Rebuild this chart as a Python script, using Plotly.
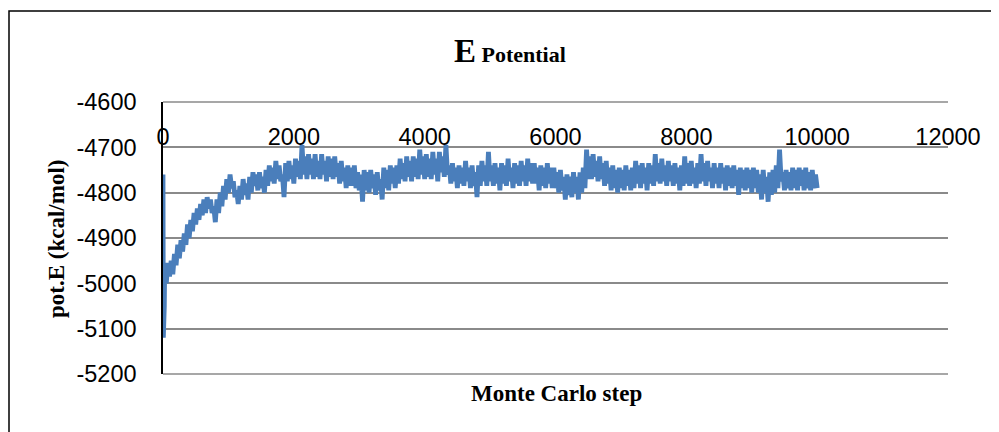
import plotly.graph_objects as go

# Monte Carlo steps (x) and potential energy (kcal/mol)
start_steps = [0, 5, 10, 20]
start_values = [-4760, -5120, -5110, -5050]

# band read every 50 steps: upper and lower edge of the noisy trace
band_steps = list(range(50, 10001, 50))
band_high = [
    -4975, -4955, -4950, -4935, -4915, -4905, -4890, -4870, -4860, -4845,
    -4835, -4825, -4815, -4810, -4815, -4830, -4815, -4800, -4785, -4770,
    -4760, -4775, -4795, -4785, -4770, -4780, -4765, -4755, -4760, -4755,
    -4765, -4750, -4740, -4745, -4730, -4740, -4760, -4735, -4730, -4740,
    -4725, -4730, -4695, -4720, -4715, -4725, -4715, -4730, -4715, -4730,
    -4720, -4725, -4720, -4735, -4730, -4745, -4740, -4745, -4740, -4755,
    -4760, -4750, -4755, -4750, -4760, -4755, -4770, -4745, -4750, -4740,
    -4745, -4740, -4725, -4735, -4720, -4730, -4720, -4725, -4705, -4720,
    -4715, -4725, -4710, -4725, -4710, -4720, -4695, -4740, -4735, -4745,
    -4740, -4745, -4730, -4745, -4740, -4755, -4740, -4730, -4740, -4710,
    -4740, -4735, -4745, -4735, -4740, -4725, -4745, -4735, -4740, -4730,
    -4740, -4725, -4735, -4735, -4745, -4740, -4745, -4735, -4745, -4745,
    -4755, -4750, -4765, -4760, -4765, -4755, -4765, -4755, -4745, -4705,
    -4720, -4715, -4730, -4720, -4735, -4730, -4745, -4740, -4750, -4745,
    -4750, -4740, -4750, -4745, -4730, -4740, -4735, -4745, -4735, -4740,
    -4715, -4735, -4725, -4740, -4730, -4740, -4735, -4745, -4740, -4720,
    -4735, -4730, -4745, -4735, -4715, -4735, -4730, -4745, -4735, -4745,
    -4735, -4745, -4740, -4745, -4740, -4750, -4745, -4750, -4745, -4750,
    -4745, -4750, -4760, -4750, -4765, -4755, -4750, -4740, -4705, -4755,
    -4750, -4755, -4745, -4750, -4745, -4750, -4745, -4755, -4750, -4760,
]
band_low = [
    -5000, -4985, -4980, -4960, -4945, -4930, -4915, -4900, -4885, -4870,
    -4860, -4850, -4845, -4835, -4845, -4865, -4845, -4830, -4815, -4800,
    -4790, -4810, -4825, -4815, -4805, -4815, -4800, -4785, -4795, -4790,
    -4800, -4785, -4775, -4780, -4770, -4775, -4810, -4775, -4770, -4780,
    -4765, -4770, -4760, -4770, -4760, -4770, -4765, -4770, -4760, -4775,
    -4765, -4770, -4765, -4780, -4775, -4790, -4785, -4785, -4790, -4795,
    -4820, -4795, -4800, -4790, -4805, -4795, -4815, -4790, -4795, -4780,
    -4790, -4780, -4770, -4775, -4765, -4775, -4765, -4770, -4760, -4770,
    -4765, -4770, -4760, -4775, -4755, -4765, -4760, -4780, -4775, -4790,
    -4780, -4785, -4775, -4790, -4785, -4810, -4785, -4775, -4785, -4775,
    -4785, -4780, -4795, -4780, -4785, -4775, -4790, -4780, -4785, -4775,
    -4785, -4775, -4780, -4780, -4795, -4785, -4790, -4780, -4790, -4790,
    -4800, -4795, -4815, -4805, -4810, -4800, -4815, -4800, -4790, -4770,
    -4770, -4765, -4775, -4770, -4785, -4780, -4795, -4790, -4800, -4790,
    -4795, -4785, -4795, -4790, -4780, -4790, -4780, -4795, -4780, -4785,
    -4775, -4780, -4775, -4785, -4775, -4785, -4780, -4795, -4785, -4780,
    -4785, -4780, -4790, -4780, -4775, -4785, -4775, -4790, -4780, -4790,
    -4780, -4795, -4785, -4790, -4785, -4805, -4790, -4795, -4790, -4800,
    -4790, -4800, -4815, -4800, -4820, -4805, -4800, -4790, -4775, -4795,
    -4790, -4795, -4790, -4795, -4785, -4795, -4790, -4795, -4790, -4790,
]

steps = list(start_steps)
energy = list(start_values)
for s, hi, lo in zip(band_steps, band_high, band_low):
    steps += [s - 25, s]
    energy += [hi, lo]

x_ticks = [0, 2000, 4000, 6000, 8000, 10000, 12000]
y_ticks = [-4600, -4700, -4800, -4900, -5000, -5100, -5200]

OFF = 8  # page offset of the plot div (body margin)
W, H = 999, 432 - OFF
L, T = 163 - OFF, 102 - OFF
R = W - (948 - OFF)
B = H - (374 - OFF)
pw, ph = W - L - R, H - T - B


def px(xp):  # page pixel -> paper x
    return (xp - OFF - L) / pw


def py(yp):  # page pixel -> paper y
    return (H - B - (yp - OFF)) / ph


fig = go.Figure()
fig.add_trace(go.Scatter(
    x=steps, y=energy, mode="lines",
    line=dict(color="#4A7EBB", width=4.8),
    showlegend=False,
))

tick_font = dict(family="Liberation Sans, Arial, sans-serif", size=23.5, color="black")
serif_bold = dict(family="Liberation Serif, Times New Roman, serif", color="black")

fig.update_layout(
    width=W, height=H,
    margin=dict(l=L, r=R, t=T, b=B, autoexpand=False),
    paper_bgcolor="white", plot_bgcolor="white",
    xaxis=dict(
        range=[0, 12000], tickvals=x_ticks, ticktext=[str(v) for v in x_ticks],
        side="bottom", anchor="free", position=py(120),
        showgrid=False, zeroline=False, showline=False, ticks="",
        ticklabelstandoff=0, tickfont=tick_font,
    ),
    yaxis=dict(
        range=[-5200, -4600], tickvals=y_ticks, ticktext=[str(v) for v in y_ticks],
        showgrid=True, gridcolor="#8A8A8A", gridwidth=1.6,
        zeroline=False, showline=True, linecolor="black", linewidth=1.5,
        ticks="", ticklabelstandoff=20, tickfont=tick_font,
    ),
    shapes=[
        dict(type="rect", xref="paper", yref="paper",
             x0=px(9), x1=px(1040), y0=py(460), y1=py(11),
             line=dict(color="black", width=1.5), fillcolor="rgba(0,0,0,0)", layer="below"),
        dict(type="line", xref="paper", yref="paper",
             x0=0, x1=1, y0=1, y1=1, line=dict(color="#8A8A8A", width=1.6), layer="below"),
        dict(type="line", xref="paper", yref="paper",
             x0=0, x1=1, y0=0, y1=0, line=dict(color="#8A8A8A", width=1.6), layer="below"),
    ],
    annotations=[
        dict(text="<b><span style='font-size:33px'>E</span> Potential</b>",
             xref="paper", yref="paper", x=px(510), y=py(51),
             xanchor="center", yanchor="middle", showarrow=False,
             font=dict(size=22, **serif_bold)),
        dict(text="<b>Monte Carlo step</b>",
             xref="paper", yref="paper", x=px(556), y=py(393),
             xanchor="center", yanchor="middle", showarrow=False,
             font=dict(size=23, **serif_bold)),
        dict(text="<b>pot.E (kcal/mol)</b>", textangle=-90,
             xref="paper", yref="paper", x=px(56), y=py(239),
             xanchor="center", yanchor="middle", showarrow=False,
             font=dict(size=23, **serif_bold)),
    ],
)

fig.write_html("out.html")
